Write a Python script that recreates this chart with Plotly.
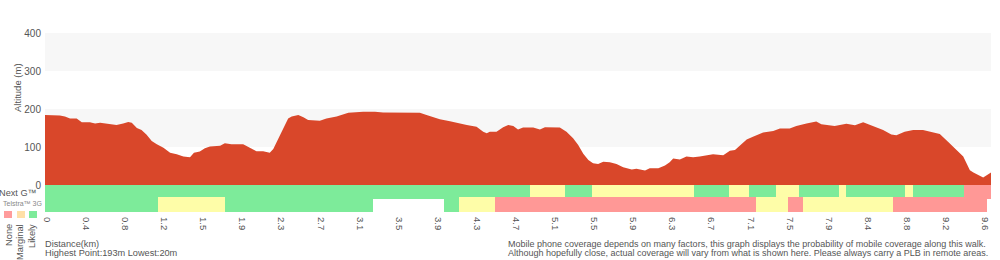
import plotly.graph_objects as go

# ---------------- data ----------------
tick_labels = ["0", "0.4", "0.8", "1.2", "1.5", "1.9", "2.3", "2.7", "3.1", "3.5",
               "3.9", "4.3", "4.7", "5.1", "5.5", "5.9", "6.3", "6.7", "7.1", "7.5",
               "7.9", "8.4", "8.8", "9.2", "9.6"]
samples_per_tick = 10
n_samples = 242

# altitude profile (x = sample index along the walk, y = metres)
profile_x = [-0.5, 3.3, 4.6, 5.9, 7.6, 8.9, 11.0, 12.3, 13.6, 15.3, 17.8, 19.5, 20.8, 21.7,
             23.0, 24.2, 25.5, 26.8, 28.1, 29.8, 31.5, 33.2, 34.9, 36.6, 37.6, 39.1, 40.4,
             41.7, 44.3, 45.5, 47.2, 50.2, 51.9, 53.6, 55.3, 57.0, 57.9, 59.6, 61.7, 62.6,
             64.3, 65.6, 66.8, 69.8, 71.5, 74.1, 75.4, 77.1, 80.9, 83.9, 86.0, 92.9, 95.4,
             97.1, 98.8, 100.5, 103.1, 105.2, 107.4, 109.9, 111.6, 112.5, 113.3, 115.0,
             116.7, 118.0, 119.3, 120.5, 121.8, 124.4, 126.1, 127.4, 131.2, 132.9, 134.6,
             135.9, 137.2, 138.5, 139.7, 141.0, 142.3, 144.0, 145.7, 147.4, 149.6, 150.8,
             153.0, 154.2, 156.4, 158.1, 159.3, 160.2, 161.9, 163.6, 165.3, 167.0, 170.4,
             173.0, 174.7, 176.0, 177.2, 179.0, 180.6, 183.2, 185.8, 187.5, 190.0, 191.7,
             194.3, 196.8, 198.1, 201.5, 204.5, 206.7, 208.8, 211.3, 213.9, 216.0, 217.3,
             219.4, 221.6, 224.1, 226.3, 228.4, 230.5, 232.7, 234.4, 236.1, 237.0, 239.5,
             240.4, 241.5]
profile_alt = [184, 183, 180, 175, 175, 165, 165, 162, 164, 161, 158, 162, 166, 164,
               150, 145, 132, 116, 107, 98, 85, 81, 75, 73, 85, 88, 97,
               101, 103, 110, 107, 107, 97, 89, 89, 85, 95, 130, 175, 180,
               184, 178, 171, 169, 175, 180, 184, 190, 193, 193, 191, 191, 190,
               184, 178, 173, 168, 164, 158, 153, 140, 136, 140, 140,
               152, 158, 155, 146, 151, 151, 146, 152, 151, 140, 123,
               105, 82, 66, 57, 55, 61, 60, 55, 47, 41, 43,
               38, 44, 44, 51, 60, 70, 67, 75, 73, 75, 81,
               78, 90, 92, 103, 120, 127, 138, 142, 149, 149, 155,
               162, 167, 160, 155, 161, 157, 165, 155, 145, 133, 131,
               140, 145, 145, 139, 134, 114, 92, 75, 39, 33, 20,
               25, 33]

# coverage segments: [start sample, end sample), level
nextg_start = [0, 124, 133, 140, 166, 175, 180, 187, 193, 203, 205, 220, 222, 235]
nextg_end = [124, 133, 140, 166, 175, 180, 187, 193, 203, 205, 220, 222, 235, 242]
nextg_level = ["Likely", "Marginal", "Likely", "Marginal", "Likely", "Marginal", "Likely",
               "Marginal", "Likely", "Marginal", "Likely", "Marginal", "Likely", "None"]

g3_start = [0, 29, 46, 102, 106, 115, 182, 190, 194, 217]
g3_end = [29, 46, 84, 106, 115, 182, 190, 194, 217, 241]
g3_level = ["Likely", "Marginal", "Likely", "Likely", "Marginal", "None", "Marginal",
            "None", "Marginal", "None"]

legend_levels = ["None", "Marginal", "Likely"]

# ---------------- styles ----------------
FONT = "Liberation Sans, Arial, Helvetica, sans-serif"
TXT = "#555555"
RED = "#D9472A"
BAND = "#F7F7F7"
LEVEL_COLOR = {"Likely": "#7DEB9A", "Marginal": "#FEFDA8", "None": "#FF9896"}
LEGEND_COLOR = {"Likely": "#7DEB9A", "Marginal": "#FFE0A8", "None": "#FF9C9C"}

W, H = 1000, 260
L, R = 45, 9
PW = W - L - R


def px(x):
    return (x - L) / PW


def py(y):
    return 1 - y / H


fig = go.Figure()

fig.add_trace(go.Scatter(
    x=profile_x, y=profile_alt, mode="lines", fill="tozeroy",
    line=dict(color=RED, width=0), fillcolor=RED,
    xaxis="x", yaxis="y", hoverinfo="skip", showlegend=False))


def coverage_trace(starts, ends, levels, center, width):
    return go.Bar(
        orientation="h",
        base=[s - 0.5 for s in starts],
        x=[e - s for s, e in zip(starts, ends)],
        y=[center] * len(starts),
        width=[width] * len(starts),
        marker=dict(color=[LEVEL_COLOR[l] for l in levels], line=dict(width=0)),
        xaxis="x", yaxis="y2", hoverinfo="skip", showlegend=False)


fig.add_trace(coverage_trace(nextg_start, nextg_end, nextg_level, 20, 14))
fig.add_trace(coverage_trace(g3_start, g3_end, g3_level, 7.5, 15))

shapes = []
for lo, hi in [(100, 200), (300, 400)]:
    shapes.append(dict(type="rect", xref="paper", x0=0, x1=1, yref="y", y0=lo, y1=hi,
                       fillcolor=BAND, line=dict(width=0), layer="below"))

# legend squares
sq_x = [4, 17, 29]
for lvl, x0 in zip(legend_levels, sq_x):
    shapes.append(dict(type="rect", xref="paper", yref="paper",
                       x0=px(x0), x1=px(x0 + 8), y0=py(218), y1=py(211),
                       fillcolor=LEGEND_COLOR[lvl], line=dict(width=0)))

annotations = []


def ann(text, x, y, size=9.5, xanchor="left", yanchor="middle", angle=0, color=TXT):
    annotations.append(dict(text=text, x=px(x), y=py(y), xref="paper", yref="paper",
                            showarrow=False, xanchor=xanchor, yanchor=yanchor,
                            textangle=angle, borderpad=0, borderwidth=0,
                            font=dict(family=FONT, size=size, color=color)))


ann("Altitude (m)", 17, 88, size=9.5, xanchor="center", angle=-90)
ann("Next G™", 37, 192.5, size=9.2, xanchor="right")
ann("Telstra™ 3G", 22, 203, size=7, xanchor="center", color="#888888")
for lvl, cx in zip(legend_levels, [9, 20, 32]):
    ann(lvl, cx, 224, size=9.3, xanchor="center", yanchor="top", angle=-90)

hi_pt = max(profile_alt)
lo_pt = min(profile_alt)
ann("Distance(km)", 45, 244, size=9.2)
ann(f"Highest Point:{hi_pt}m Lowest:{lo_pt}m", 45, 253, size=9.2)
ann("Mobile phone coverage depends on many factors, this graph displays the probability "
    "of mobile coverage along this walk.", 508, 244, size=9)
ann("Although hopefully close, actual coverage will vary from what is shown here. "
    "Please always carry a PLB in remote areas.", 508, 253, size=9)

fig.update_layout(
    width=W, height=H,
    margin=dict(l=L, r=R, t=0, b=0, pad=0, autoexpand=False),
    paper_bgcolor="white", plot_bgcolor="white",
    barmode="overlay", bargap=0,
    font=dict(family=FONT, size=9.5, color=TXT),
    shapes=shapes, annotations=annotations,
    xaxis=dict(range=[-0.5, n_samples - 0.5], anchor="y2", automargin=False,
               tickvals=[i * samples_per_tick for i in range(len(tick_labels))],
               ticktext=tick_labels, tickangle=90, showgrid=False, zeroline=False,
               showline=False, ticks="", ticklabelstandoff=4,
               tickfont=dict(size=9.5, color=TXT)),
    yaxis=dict(domain=[py(185), py(33)], range=[0, 400], tickvals=[0, 100, 200, 300, 400],
               automargin=False,
               showgrid=False, zeroline=False, showline=False, ticks="",
               ticklabelstandoff=3, tickfont=dict(size=10, color=TXT)),
    yaxis2=dict(domain=[py(212), py(185)], range=[0, 27], visible=False, fixedrange=True,
                automargin=False),
)

fig.write_html("out.html")
